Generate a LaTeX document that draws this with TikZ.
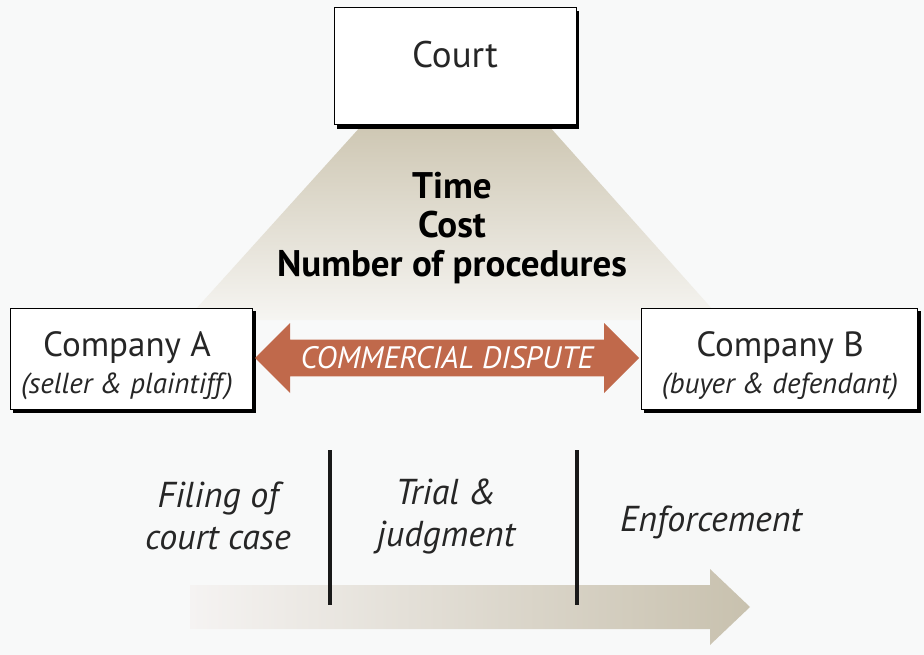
\documentclass[tikz,border=0pt]{standalone}
\usepackage{fontspec}
\setmainfont{PT Sans}
\usetikzlibrary{shapes.arrows}
\definecolor{bg}{HTML}{F8F9F9}
\definecolor{tanT}{HTML}{CEC7B3}
\definecolor{tanB}{HTML}{F6F5F2}
\definecolor{sienna}{HTML}{C0694B}
\definecolor{tlL}{HTML}{F5F3F2}
\definecolor{tlR}{HTML}{C8C1AE}
\tikzset{
  box/.style={draw=black, line width=1.4pt, fill=white, inner sep=0pt},
  boxshadow/.style={fill=black},
  lbl/.style={font=\fontsize{35}{40}\selectfont, text=black!85},
  sub/.style={font=\itshape\fontsize{29}{34}\selectfont, text=black!85},
  phase/.style={font=\itshape\fontsize{36}{42}\selectfont, text=black!85, align=center},
  divider/.style={line width=3.5pt, black!90},
}
\begin{document}
\begin{tikzpicture}[x=1pt,y=-1pt]
\useasboundingbox[fill=bg] (0,0) rectangle (924,655);
% trapezoid
\shade[top color=tanT, bottom color=tanB] (362,125) -- (548,125) -- (722,320) -- (186,320) -- cycle;
% court
\fill[boxshadow] (337,11) rectangle (579,129);
\node[box, minimum width=242pt, minimum height=117pt, anchor=north west] (court) at (334,7) {};
\node[lbl, font=\fontsize{37}{40}\selectfont, anchor=base] at (455,68) {Court};
% metrics
\node[font=\bfseries\fontsize{37}{39}\selectfont, align=center, anchor=north, inner sep=0pt] (metrics) at (452,172) {Time\\Cost\\Number of procedures};
% company A
\fill[boxshadow] (13,311) rectangle (256,413);
\node[box, minimum width=242pt, minimum height=101pt, anchor=north west] (compA) at (10,308) {};
\node[lbl, anchor=base] at (127,356) {Company A};
\node[sub, anchor=base] at (127,393) {(seller \& plaintiff)};
% company B
\fill[boxshadow] (644,311) rectangle (921,413);
\node[box, minimum width=276pt, minimum height=101pt, anchor=north west] (compB) at (641,308) {};
\node[lbl, anchor=base] at (780,356) {Company B};
\node[sub, anchor=base] at (780,393) {(buyer \& defendant)};
% dispute arrow
\node[double arrow, fill=sienna, draw=none, minimum height=384pt, minimum width=70pt,
      double arrow head extend=14pt, inner ysep=4pt, inner xsep=0pt,
      font=\itshape\fontsize{31}{34}\selectfont, text=white] (dispute) at (447,358)
      {COMMERCIAL DISPUTE};
% timeline arrow
\coordinate (tl1) at (190,585);
\coordinate (tl2) at (710,585);
\coordinate (tl3) at (710,569);
\coordinate (tip) at (750,607);
\coordinate (tl4) at (710,645);
\coordinate (tl5) at (710,629);
\coordinate (tl6) at (190,629);
\shade[left color=tlL, right color=tlR] (tl1) -- (tl2) -- (tl3) -- (tip) -- (tl4) -- (tl5) -- (tl6) -- cycle;
% dividers
\coordinate (d1t) at (330,450); \coordinate (d1b) at (330,605);
\coordinate (d2t) at (577,450); \coordinate (d2b) at (577,605);
\draw[divider] (d1t) -- (d1b);
\draw[divider] (d2t) -- (d2b);
% phases
\node[phase] (filing) at (218,516) {Filing of\\court case};
\node[phase] (trial) at (446,516) {Trial \&\\judgment};
\node[phase, anchor=base] (enf) at (711,531) {Enforcement};
\end{tikzpicture}
\end{document}
